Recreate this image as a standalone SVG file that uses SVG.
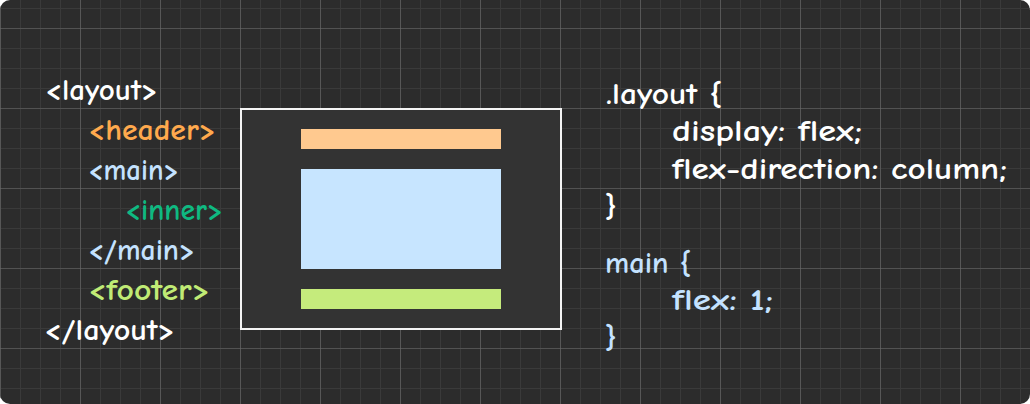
<svg xmlns="http://www.w3.org/2000/svg" width="1030" height="404" viewBox="0 0 1030 404">
<defs>
<clipPath id="card"><rect x="0" y="0" width="1030" height="404" rx="10" ry="10"/></clipPath>
<pattern id="minor" x="0" y="8" width="20" height="20" patternUnits="userSpaceOnUse">
<path d="M0 0H20M0 0V20" stroke="#3a3a3a" stroke-width="2" fill="none"/>
</pattern>
<pattern id="major" x="0" y="28" width="80" height="80" patternUnits="userSpaceOnUse">
<path d="M0 0H80M0 0V80" stroke="#6a6a6a" stroke-width="1.2" fill="none"/>
</pattern>
<style>
text{font-family:"Comic Sans MS","Comic Neue","Open Sans","Noto Sans",sans-serif;font-size:31px;font-weight:bold;}
.w{fill:#ffffff}
.o{fill:#ffa94d}
.b{fill:#c4e2ff}
.g{fill:#0fb981}
.l{fill:#c0eb75}
</style>
</defs>
<rect width="1030" height="404" fill="#ffffff"/>
<g clip-path="url(#card)">
<rect width="1030" height="404" fill="#2c2c2c"/>
<rect width="1030" height="404" fill="url(#minor)"/>
<rect width="1030" height="404" fill="url(#major)"/>
</g>
<g id="html-code">
<text class="w" x="45" y="100" textLength="113" lengthAdjust="spacingAndGlyphs">&lt;layout&gt;</text>
<text class="o" x="88" y="140" textLength="128" lengthAdjust="spacingAndGlyphs">&lt;header&gt;</text>
<text class="b" x="88" y="180" textLength="91" lengthAdjust="spacingAndGlyphs">&lt;main&gt;</text>
<text class="g" x="125" y="220" textLength="98" lengthAdjust="spacingAndGlyphs">&lt;inner&gt;</text>
<text class="b" x="88" y="260" textLength="107" lengthAdjust="spacingAndGlyphs">&lt;/main&gt;</text>
<text class="l" x="88" y="300" textLength="122" lengthAdjust="spacingAndGlyphs">&lt;footer&gt;</text>
<text class="w" x="44" y="340" textLength="131" lengthAdjust="spacingAndGlyphs">&lt;/layout&gt;</text>
</g>
<g id="layout-box">
<rect x="241" y="109" width="320" height="220" fill="#333333" stroke="#f5f5f5" stroke-width="2"/>
<rect id="header-bar" x="301" y="129" width="200" height="20" fill="#ffc98f"/>
<rect id="main-block" x="301" y="169" width="200" height="100" fill="#c7e5ff"/>
<rect id="footer-bar" x="301" y="289" width="200" height="20" fill="#c5eb7c"/>
</g>
<g id="css-code">
<text class="w" x="606" y="104" textLength="116" lengthAdjust="spacingAndGlyphs">.layout {</text>
<text class="w" x="672" y="141" textLength="190" lengthAdjust="spacingAndGlyphs">display: flex;</text>
<text class="w" x="672" y="179" textLength="335" lengthAdjust="spacingAndGlyphs">flex-direction: column;</text>
<text class="w" x="605" y="216">}</text>
<text class="b" x="605" y="273" textLength="86" lengthAdjust="spacingAndGlyphs">main {</text>
<text class="b" x="672" y="310" textLength="101" lengthAdjust="spacingAndGlyphs">flex: 1;</text>
<text class="b" x="605" y="347">}</text>
</g>
</svg>
